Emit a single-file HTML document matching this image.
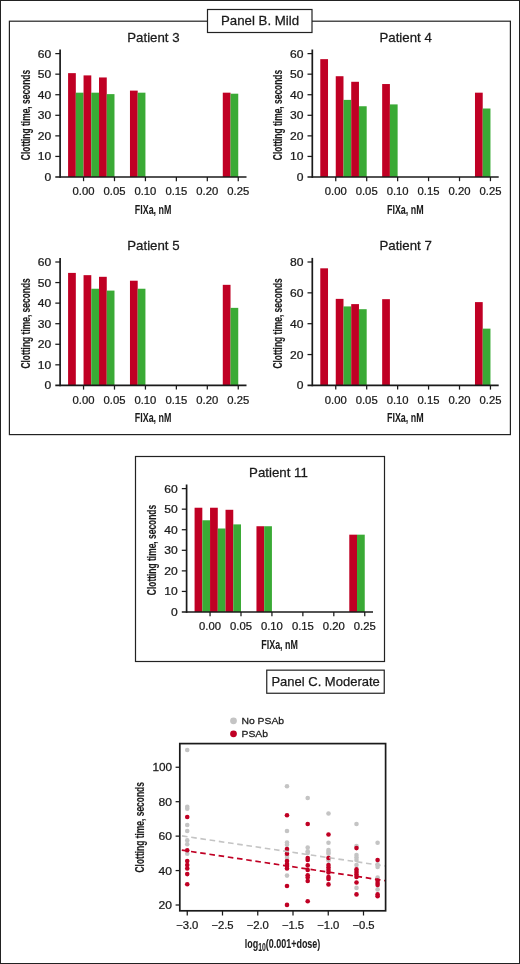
<!DOCTYPE html>
<html lang="en">
<head>
<meta charset="utf-8">
<title>Clotting time figure</title>
<style>
html,body{margin:0;padding:0;background:#fff;}
body{width:520px;height:964px;overflow:hidden;}
svg{display:block;font-family:"Liberation Sans", sans-serif;}
</style>
</head>
<body>
<svg width="520" height="964" viewBox="0 0 520 964">
<rect x="0.5" y="0.5" width="519" height="963" fill="#fff" stroke="#222" stroke-width="1"/>
<rect x="9.4" y="21.2" width="501" height="413.4" fill="none" stroke="#222" stroke-width="1.2"/>
<rect x="207.5" y="9.5" width="104.5" height="23" fill="#fff" stroke="#222" stroke-width="1.2"/>
<text transform="translate(260.00,25.00) scale(1.02,1)" font-size="13" text-anchor="middle" font-weight="normal" fill="#1a1a1a" stroke="#1a1a1a" stroke-width="0.25">Panel B. Mild</text>
<rect x="68.08" y="73.14" width="7.74" height="103.86" fill="#c00024"/>
<rect x="75.81" y="92.68" width="7.74" height="84.32" fill="#3aaa35"/>
<rect x="83.55" y="75.40" width="7.74" height="101.60" fill="#c00024"/>
<rect x="91.28" y="92.68" width="7.74" height="84.32" fill="#3aaa35"/>
<rect x="99.02" y="77.46" width="7.74" height="99.54" fill="#c00024"/>
<rect x="106.75" y="94.12" width="7.74" height="82.88" fill="#3aaa35"/>
<rect x="129.96" y="90.62" width="7.74" height="86.38" fill="#c00024"/>
<rect x="137.69" y="92.68" width="7.74" height="84.32" fill="#3aaa35"/>
<rect x="222.78" y="92.68" width="7.74" height="84.32" fill="#c00024"/>
<rect x="230.51" y="93.70" width="7.74" height="83.30" fill="#3aaa35"/>
<line x1="60.10" y1="49.50" x2="60.10" y2="177.85" stroke="#1a1a1a" stroke-width="1.7"/>
<line x1="55.30" y1="177.00" x2="246.50" y2="177.00" stroke="#1a1a1a" stroke-width="1.7"/>
<text transform="translate(51.30,180.95) scale(1.1,1)" font-size="11" text-anchor="end" font-weight="normal" fill="#1a1a1a" stroke="#1a1a1a" stroke-width="0.25">0</text>
<line x1="55.30" y1="156.43" x2="60.10" y2="156.43" stroke="#1a1a1a" stroke-width="1.25"/>
<text transform="translate(51.30,160.38) scale(1.1,1)" font-size="11" text-anchor="end" font-weight="normal" fill="#1a1a1a" stroke="#1a1a1a" stroke-width="0.25">10</text>
<line x1="55.30" y1="135.87" x2="60.10" y2="135.87" stroke="#1a1a1a" stroke-width="1.25"/>
<text transform="translate(51.30,139.82) scale(1.1,1)" font-size="11" text-anchor="end" font-weight="normal" fill="#1a1a1a" stroke="#1a1a1a" stroke-width="0.25">20</text>
<line x1="55.30" y1="115.30" x2="60.10" y2="115.30" stroke="#1a1a1a" stroke-width="1.25"/>
<text transform="translate(51.30,119.25) scale(1.1,1)" font-size="11" text-anchor="end" font-weight="normal" fill="#1a1a1a" stroke="#1a1a1a" stroke-width="0.25">30</text>
<line x1="55.30" y1="94.73" x2="60.10" y2="94.73" stroke="#1a1a1a" stroke-width="1.25"/>
<text transform="translate(51.30,98.68) scale(1.1,1)" font-size="11" text-anchor="end" font-weight="normal" fill="#1a1a1a" stroke="#1a1a1a" stroke-width="0.25">40</text>
<line x1="55.30" y1="74.17" x2="60.10" y2="74.17" stroke="#1a1a1a" stroke-width="1.25"/>
<text transform="translate(51.30,78.12) scale(1.1,1)" font-size="11" text-anchor="end" font-weight="normal" fill="#1a1a1a" stroke="#1a1a1a" stroke-width="0.25">50</text>
<line x1="55.30" y1="53.60" x2="60.10" y2="53.60" stroke="#1a1a1a" stroke-width="1.25"/>
<text transform="translate(51.30,57.55) scale(1.1,1)" font-size="11" text-anchor="end" font-weight="normal" fill="#1a1a1a" stroke="#1a1a1a" stroke-width="0.25">60</text>
<line x1="83.55" y1="177.00" x2="83.55" y2="181.20" stroke="#1a1a1a" stroke-width="1.25"/>
<text transform="translate(83.55,195.10) scale(1.025,1)" font-size="11" text-anchor="middle" font-weight="normal" fill="#1a1a1a" stroke="#1a1a1a" stroke-width="0.25">0.00</text>
<line x1="114.49" y1="177.00" x2="114.49" y2="181.20" stroke="#1a1a1a" stroke-width="1.25"/>
<text transform="translate(114.49,195.10) scale(1.025,1)" font-size="11" text-anchor="middle" font-weight="normal" fill="#1a1a1a" stroke="#1a1a1a" stroke-width="0.25">0.05</text>
<line x1="145.43" y1="177.00" x2="145.43" y2="181.20" stroke="#1a1a1a" stroke-width="1.25"/>
<text transform="translate(145.43,195.10) scale(1.025,1)" font-size="11" text-anchor="middle" font-weight="normal" fill="#1a1a1a" stroke="#1a1a1a" stroke-width="0.25">0.10</text>
<line x1="176.37" y1="177.00" x2="176.37" y2="181.20" stroke="#1a1a1a" stroke-width="1.25"/>
<text transform="translate(176.37,195.10) scale(1.025,1)" font-size="11" text-anchor="middle" font-weight="normal" fill="#1a1a1a" stroke="#1a1a1a" stroke-width="0.25">0.15</text>
<line x1="207.31" y1="177.00" x2="207.31" y2="181.20" stroke="#1a1a1a" stroke-width="1.25"/>
<text transform="translate(207.31,195.10) scale(1.025,1)" font-size="11" text-anchor="middle" font-weight="normal" fill="#1a1a1a" stroke="#1a1a1a" stroke-width="0.25">0.20</text>
<line x1="238.25" y1="177.00" x2="238.25" y2="181.20" stroke="#1a1a1a" stroke-width="1.25"/>
<text transform="translate(238.25,195.10) scale(1.025,1)" font-size="11" text-anchor="middle" font-weight="normal" fill="#1a1a1a" stroke="#1a1a1a" stroke-width="0.25">0.25</text>
<text transform="translate(153.40,41.75) scale(1.02,1)" font-size="13" text-anchor="middle" font-weight="normal" fill="#1a1a1a" stroke="#1a1a1a" stroke-width="0.25">Patient 3</text>
<text transform="translate(153.10,213.55) scale(0.66,1)" font-size="13.5" text-anchor="middle" font-weight="bold" fill="#1a1a1a" stroke="#1a1a1a" stroke-width="0.05">FIXa, nM</text>
<text transform="translate(29.80,115.00) rotate(-90) scale(0.625,1)" font-size="13.5" text-anchor="middle" font-weight="bold" fill="#1a1a1a" stroke="#1a1a1a" stroke-width="0.15">Clotting time, seconds</text>
<rect x="320.28" y="59.15" width="7.74" height="117.85" fill="#c00024"/>
<rect x="335.75" y="76.22" width="7.74" height="100.78" fill="#c00024"/>
<rect x="343.49" y="99.88" width="7.74" height="77.12" fill="#3aaa35"/>
<rect x="351.22" y="81.78" width="7.74" height="95.22" fill="#c00024"/>
<rect x="358.95" y="106.25" width="7.74" height="70.75" fill="#3aaa35"/>
<rect x="382.16" y="84.04" width="7.74" height="92.96" fill="#c00024"/>
<rect x="389.89" y="104.40" width="7.74" height="72.60" fill="#3aaa35"/>
<rect x="474.98" y="92.68" width="7.74" height="84.32" fill="#c00024"/>
<rect x="482.72" y="108.51" width="7.74" height="68.49" fill="#3aaa35"/>
<line x1="312.30" y1="49.50" x2="312.30" y2="177.85" stroke="#1a1a1a" stroke-width="1.7"/>
<line x1="307.50" y1="177.00" x2="498.70" y2="177.00" stroke="#1a1a1a" stroke-width="1.7"/>
<text transform="translate(303.50,180.95) scale(1.1,1)" font-size="11" text-anchor="end" font-weight="normal" fill="#1a1a1a" stroke="#1a1a1a" stroke-width="0.25">0</text>
<line x1="307.50" y1="156.43" x2="312.30" y2="156.43" stroke="#1a1a1a" stroke-width="1.25"/>
<text transform="translate(303.50,160.38) scale(1.1,1)" font-size="11" text-anchor="end" font-weight="normal" fill="#1a1a1a" stroke="#1a1a1a" stroke-width="0.25">10</text>
<line x1="307.50" y1="135.87" x2="312.30" y2="135.87" stroke="#1a1a1a" stroke-width="1.25"/>
<text transform="translate(303.50,139.82) scale(1.1,1)" font-size="11" text-anchor="end" font-weight="normal" fill="#1a1a1a" stroke="#1a1a1a" stroke-width="0.25">20</text>
<line x1="307.50" y1="115.30" x2="312.30" y2="115.30" stroke="#1a1a1a" stroke-width="1.25"/>
<text transform="translate(303.50,119.25) scale(1.1,1)" font-size="11" text-anchor="end" font-weight="normal" fill="#1a1a1a" stroke="#1a1a1a" stroke-width="0.25">30</text>
<line x1="307.50" y1="94.73" x2="312.30" y2="94.73" stroke="#1a1a1a" stroke-width="1.25"/>
<text transform="translate(303.50,98.68) scale(1.1,1)" font-size="11" text-anchor="end" font-weight="normal" fill="#1a1a1a" stroke="#1a1a1a" stroke-width="0.25">40</text>
<line x1="307.50" y1="74.17" x2="312.30" y2="74.17" stroke="#1a1a1a" stroke-width="1.25"/>
<text transform="translate(303.50,78.12) scale(1.1,1)" font-size="11" text-anchor="end" font-weight="normal" fill="#1a1a1a" stroke="#1a1a1a" stroke-width="0.25">50</text>
<line x1="307.50" y1="53.60" x2="312.30" y2="53.60" stroke="#1a1a1a" stroke-width="1.25"/>
<text transform="translate(303.50,57.55) scale(1.1,1)" font-size="11" text-anchor="end" font-weight="normal" fill="#1a1a1a" stroke="#1a1a1a" stroke-width="0.25">60</text>
<line x1="335.75" y1="177.00" x2="335.75" y2="181.20" stroke="#1a1a1a" stroke-width="1.25"/>
<text transform="translate(335.75,195.10) scale(1.025,1)" font-size="11" text-anchor="middle" font-weight="normal" fill="#1a1a1a" stroke="#1a1a1a" stroke-width="0.25">0.00</text>
<line x1="366.69" y1="177.00" x2="366.69" y2="181.20" stroke="#1a1a1a" stroke-width="1.25"/>
<text transform="translate(366.69,195.10) scale(1.025,1)" font-size="11" text-anchor="middle" font-weight="normal" fill="#1a1a1a" stroke="#1a1a1a" stroke-width="0.25">0.05</text>
<line x1="397.63" y1="177.00" x2="397.63" y2="181.20" stroke="#1a1a1a" stroke-width="1.25"/>
<text transform="translate(397.63,195.10) scale(1.025,1)" font-size="11" text-anchor="middle" font-weight="normal" fill="#1a1a1a" stroke="#1a1a1a" stroke-width="0.25">0.10</text>
<line x1="428.57" y1="177.00" x2="428.57" y2="181.20" stroke="#1a1a1a" stroke-width="1.25"/>
<text transform="translate(428.57,195.10) scale(1.025,1)" font-size="11" text-anchor="middle" font-weight="normal" fill="#1a1a1a" stroke="#1a1a1a" stroke-width="0.25">0.15</text>
<line x1="459.51" y1="177.00" x2="459.51" y2="181.20" stroke="#1a1a1a" stroke-width="1.25"/>
<text transform="translate(459.51,195.10) scale(1.025,1)" font-size="11" text-anchor="middle" font-weight="normal" fill="#1a1a1a" stroke="#1a1a1a" stroke-width="0.25">0.20</text>
<line x1="490.45" y1="177.00" x2="490.45" y2="181.20" stroke="#1a1a1a" stroke-width="1.25"/>
<text transform="translate(490.45,195.10) scale(1.025,1)" font-size="11" text-anchor="middle" font-weight="normal" fill="#1a1a1a" stroke="#1a1a1a" stroke-width="0.25">0.25</text>
<text transform="translate(405.60,41.75) scale(1.02,1)" font-size="13" text-anchor="middle" font-weight="normal" fill="#1a1a1a" stroke="#1a1a1a" stroke-width="0.25">Patient 4</text>
<text transform="translate(405.30,213.55) scale(0.66,1)" font-size="13.5" text-anchor="middle" font-weight="bold" fill="#1a1a1a" stroke="#1a1a1a" stroke-width="0.05">FIXa, nM</text>
<text transform="translate(282.00,115.00) rotate(-90) scale(0.625,1)" font-size="13.5" text-anchor="middle" font-weight="bold" fill="#1a1a1a" stroke="#1a1a1a" stroke-width="0.15">Clotting time, seconds</text>
<rect x="68.08" y="272.90" width="7.74" height="112.50" fill="#c00024"/>
<rect x="83.55" y="275.16" width="7.74" height="110.24" fill="#c00024"/>
<rect x="91.28" y="288.74" width="7.74" height="96.66" fill="#3aaa35"/>
<rect x="99.02" y="276.81" width="7.74" height="108.59" fill="#c00024"/>
<rect x="106.75" y="290.59" width="7.74" height="94.81" fill="#3aaa35"/>
<rect x="129.96" y="280.72" width="7.74" height="104.68" fill="#c00024"/>
<rect x="137.69" y="288.74" width="7.74" height="96.66" fill="#3aaa35"/>
<rect x="222.78" y="284.83" width="7.74" height="100.57" fill="#c00024"/>
<rect x="230.51" y="307.86" width="7.74" height="77.54" fill="#3aaa35"/>
<line x1="60.10" y1="257.90" x2="60.10" y2="386.25" stroke="#1a1a1a" stroke-width="1.7"/>
<line x1="55.30" y1="385.40" x2="246.50" y2="385.40" stroke="#1a1a1a" stroke-width="1.7"/>
<text transform="translate(51.30,389.35) scale(1.1,1)" font-size="11" text-anchor="end" font-weight="normal" fill="#1a1a1a" stroke="#1a1a1a" stroke-width="0.25">0</text>
<line x1="55.30" y1="364.83" x2="60.10" y2="364.83" stroke="#1a1a1a" stroke-width="1.25"/>
<text transform="translate(51.30,368.78) scale(1.1,1)" font-size="11" text-anchor="end" font-weight="normal" fill="#1a1a1a" stroke="#1a1a1a" stroke-width="0.25">10</text>
<line x1="55.30" y1="344.27" x2="60.10" y2="344.27" stroke="#1a1a1a" stroke-width="1.25"/>
<text transform="translate(51.30,348.22) scale(1.1,1)" font-size="11" text-anchor="end" font-weight="normal" fill="#1a1a1a" stroke="#1a1a1a" stroke-width="0.25">20</text>
<line x1="55.30" y1="323.70" x2="60.10" y2="323.70" stroke="#1a1a1a" stroke-width="1.25"/>
<text transform="translate(51.30,327.65) scale(1.1,1)" font-size="11" text-anchor="end" font-weight="normal" fill="#1a1a1a" stroke="#1a1a1a" stroke-width="0.25">30</text>
<line x1="55.30" y1="303.13" x2="60.10" y2="303.13" stroke="#1a1a1a" stroke-width="1.25"/>
<text transform="translate(51.30,307.08) scale(1.1,1)" font-size="11" text-anchor="end" font-weight="normal" fill="#1a1a1a" stroke="#1a1a1a" stroke-width="0.25">40</text>
<line x1="55.30" y1="282.57" x2="60.10" y2="282.57" stroke="#1a1a1a" stroke-width="1.25"/>
<text transform="translate(51.30,286.52) scale(1.1,1)" font-size="11" text-anchor="end" font-weight="normal" fill="#1a1a1a" stroke="#1a1a1a" stroke-width="0.25">50</text>
<line x1="55.30" y1="262.00" x2="60.10" y2="262.00" stroke="#1a1a1a" stroke-width="1.25"/>
<text transform="translate(51.30,265.95) scale(1.1,1)" font-size="11" text-anchor="end" font-weight="normal" fill="#1a1a1a" stroke="#1a1a1a" stroke-width="0.25">60</text>
<line x1="83.55" y1="385.40" x2="83.55" y2="389.60" stroke="#1a1a1a" stroke-width="1.25"/>
<text transform="translate(83.55,403.50) scale(1.025,1)" font-size="11" text-anchor="middle" font-weight="normal" fill="#1a1a1a" stroke="#1a1a1a" stroke-width="0.25">0.00</text>
<line x1="114.49" y1="385.40" x2="114.49" y2="389.60" stroke="#1a1a1a" stroke-width="1.25"/>
<text transform="translate(114.49,403.50) scale(1.025,1)" font-size="11" text-anchor="middle" font-weight="normal" fill="#1a1a1a" stroke="#1a1a1a" stroke-width="0.25">0.05</text>
<line x1="145.43" y1="385.40" x2="145.43" y2="389.60" stroke="#1a1a1a" stroke-width="1.25"/>
<text transform="translate(145.43,403.50) scale(1.025,1)" font-size="11" text-anchor="middle" font-weight="normal" fill="#1a1a1a" stroke="#1a1a1a" stroke-width="0.25">0.10</text>
<line x1="176.37" y1="385.40" x2="176.37" y2="389.60" stroke="#1a1a1a" stroke-width="1.25"/>
<text transform="translate(176.37,403.50) scale(1.025,1)" font-size="11" text-anchor="middle" font-weight="normal" fill="#1a1a1a" stroke="#1a1a1a" stroke-width="0.25">0.15</text>
<line x1="207.31" y1="385.40" x2="207.31" y2="389.60" stroke="#1a1a1a" stroke-width="1.25"/>
<text transform="translate(207.31,403.50) scale(1.025,1)" font-size="11" text-anchor="middle" font-weight="normal" fill="#1a1a1a" stroke="#1a1a1a" stroke-width="0.25">0.20</text>
<line x1="238.25" y1="385.40" x2="238.25" y2="389.60" stroke="#1a1a1a" stroke-width="1.25"/>
<text transform="translate(238.25,403.50) scale(1.025,1)" font-size="11" text-anchor="middle" font-weight="normal" fill="#1a1a1a" stroke="#1a1a1a" stroke-width="0.25">0.25</text>
<text transform="translate(153.40,250.15) scale(1.02,1)" font-size="13" text-anchor="middle" font-weight="normal" fill="#1a1a1a" stroke="#1a1a1a" stroke-width="0.25">Patient 5</text>
<text transform="translate(153.10,421.95) scale(0.66,1)" font-size="13.5" text-anchor="middle" font-weight="bold" fill="#1a1a1a" stroke="#1a1a1a" stroke-width="0.05">FIXa, nM</text>
<text transform="translate(29.80,323.40) rotate(-90) scale(0.625,1)" font-size="13.5" text-anchor="middle" font-weight="bold" fill="#1a1a1a" stroke="#1a1a1a" stroke-width="0.15">Clotting time, seconds</text>
<rect x="320.28" y="268.32" width="7.74" height="117.08" fill="#c00024"/>
<rect x="335.75" y="298.87" width="7.74" height="86.53" fill="#c00024"/>
<rect x="343.49" y="306.42" width="7.74" height="78.98" fill="#3aaa35"/>
<rect x="351.22" y="304.11" width="7.74" height="81.29" fill="#c00024"/>
<rect x="358.95" y="309.20" width="7.74" height="76.20" fill="#3aaa35"/>
<rect x="382.16" y="299.17" width="7.74" height="86.23" fill="#c00024"/>
<rect x="474.98" y="302.11" width="7.74" height="83.29" fill="#c00024"/>
<rect x="482.72" y="328.64" width="7.74" height="56.76" fill="#3aaa35"/>
<line x1="312.30" y1="257.90" x2="312.30" y2="386.25" stroke="#1a1a1a" stroke-width="1.7"/>
<line x1="307.50" y1="385.40" x2="498.70" y2="385.40" stroke="#1a1a1a" stroke-width="1.7"/>
<text transform="translate(303.50,389.35) scale(1.1,1)" font-size="11" text-anchor="end" font-weight="normal" fill="#1a1a1a" stroke="#1a1a1a" stroke-width="0.25">0</text>
<line x1="307.50" y1="354.55" x2="312.30" y2="354.55" stroke="#1a1a1a" stroke-width="1.25"/>
<text transform="translate(303.50,358.50) scale(1.1,1)" font-size="11" text-anchor="end" font-weight="normal" fill="#1a1a1a" stroke="#1a1a1a" stroke-width="0.25">20</text>
<line x1="307.50" y1="323.70" x2="312.30" y2="323.70" stroke="#1a1a1a" stroke-width="1.25"/>
<text transform="translate(303.50,327.65) scale(1.1,1)" font-size="11" text-anchor="end" font-weight="normal" fill="#1a1a1a" stroke="#1a1a1a" stroke-width="0.25">40</text>
<line x1="307.50" y1="292.85" x2="312.30" y2="292.85" stroke="#1a1a1a" stroke-width="1.25"/>
<text transform="translate(303.50,296.80) scale(1.1,1)" font-size="11" text-anchor="end" font-weight="normal" fill="#1a1a1a" stroke="#1a1a1a" stroke-width="0.25">60</text>
<line x1="307.50" y1="262.00" x2="312.30" y2="262.00" stroke="#1a1a1a" stroke-width="1.25"/>
<text transform="translate(303.50,265.95) scale(1.1,1)" font-size="11" text-anchor="end" font-weight="normal" fill="#1a1a1a" stroke="#1a1a1a" stroke-width="0.25">80</text>
<line x1="335.75" y1="385.40" x2="335.75" y2="389.60" stroke="#1a1a1a" stroke-width="1.25"/>
<text transform="translate(335.75,403.50) scale(1.025,1)" font-size="11" text-anchor="middle" font-weight="normal" fill="#1a1a1a" stroke="#1a1a1a" stroke-width="0.25">0.00</text>
<line x1="366.69" y1="385.40" x2="366.69" y2="389.60" stroke="#1a1a1a" stroke-width="1.25"/>
<text transform="translate(366.69,403.50) scale(1.025,1)" font-size="11" text-anchor="middle" font-weight="normal" fill="#1a1a1a" stroke="#1a1a1a" stroke-width="0.25">0.05</text>
<line x1="397.63" y1="385.40" x2="397.63" y2="389.60" stroke="#1a1a1a" stroke-width="1.25"/>
<text transform="translate(397.63,403.50) scale(1.025,1)" font-size="11" text-anchor="middle" font-weight="normal" fill="#1a1a1a" stroke="#1a1a1a" stroke-width="0.25">0.10</text>
<line x1="428.57" y1="385.40" x2="428.57" y2="389.60" stroke="#1a1a1a" stroke-width="1.25"/>
<text transform="translate(428.57,403.50) scale(1.025,1)" font-size="11" text-anchor="middle" font-weight="normal" fill="#1a1a1a" stroke="#1a1a1a" stroke-width="0.25">0.15</text>
<line x1="459.51" y1="385.40" x2="459.51" y2="389.60" stroke="#1a1a1a" stroke-width="1.25"/>
<text transform="translate(459.51,403.50) scale(1.025,1)" font-size="11" text-anchor="middle" font-weight="normal" fill="#1a1a1a" stroke="#1a1a1a" stroke-width="0.25">0.20</text>
<line x1="490.45" y1="385.40" x2="490.45" y2="389.60" stroke="#1a1a1a" stroke-width="1.25"/>
<text transform="translate(490.45,403.50) scale(1.025,1)" font-size="11" text-anchor="middle" font-weight="normal" fill="#1a1a1a" stroke="#1a1a1a" stroke-width="0.25">0.25</text>
<text transform="translate(405.60,250.15) scale(1.02,1)" font-size="13" text-anchor="middle" font-weight="normal" fill="#1a1a1a" stroke="#1a1a1a" stroke-width="0.25">Patient 7</text>
<text transform="translate(405.30,421.95) scale(0.66,1)" font-size="13.5" text-anchor="middle" font-weight="bold" fill="#1a1a1a" stroke="#1a1a1a" stroke-width="0.05">FIXa, nM</text>
<text transform="translate(282.00,323.40) rotate(-90) scale(0.625,1)" font-size="13.5" text-anchor="middle" font-weight="bold" fill="#1a1a1a" stroke="#1a1a1a" stroke-width="0.15">Clotting time, seconds</text>
<rect x="135.5" y="456.5" width="249" height="205" fill="none" stroke="#222" stroke-width="1.2"/>
<rect x="194.58" y="507.73" width="7.74" height="104.27" fill="#c00024"/>
<rect x="202.31" y="520.27" width="7.74" height="91.73" fill="#3aaa35"/>
<rect x="210.05" y="507.73" width="7.74" height="104.27" fill="#c00024"/>
<rect x="217.78" y="528.50" width="7.74" height="83.50" fill="#3aaa35"/>
<rect x="225.52" y="509.78" width="7.74" height="102.22" fill="#c00024"/>
<rect x="233.25" y="524.39" width="7.74" height="87.61" fill="#3aaa35"/>
<rect x="256.46" y="526.24" width="7.74" height="85.76" fill="#c00024"/>
<rect x="264.19" y="526.24" width="7.74" height="85.76" fill="#3aaa35"/>
<rect x="349.28" y="534.67" width="7.74" height="77.33" fill="#c00024"/>
<rect x="357.01" y="534.67" width="7.74" height="77.33" fill="#3aaa35"/>
<line x1="186.60" y1="484.50" x2="186.60" y2="612.85" stroke="#1a1a1a" stroke-width="1.7"/>
<line x1="181.80" y1="612.00" x2="373.00" y2="612.00" stroke="#1a1a1a" stroke-width="1.7"/>
<text transform="translate(177.80,615.95) scale(1.1,1)" font-size="11" text-anchor="end" font-weight="normal" fill="#1a1a1a" stroke="#1a1a1a" stroke-width="0.25">0</text>
<line x1="181.80" y1="591.43" x2="186.60" y2="591.43" stroke="#1a1a1a" stroke-width="1.25"/>
<text transform="translate(177.80,595.38) scale(1.1,1)" font-size="11" text-anchor="end" font-weight="normal" fill="#1a1a1a" stroke="#1a1a1a" stroke-width="0.25">10</text>
<line x1="181.80" y1="570.87" x2="186.60" y2="570.87" stroke="#1a1a1a" stroke-width="1.25"/>
<text transform="translate(177.80,574.82) scale(1.1,1)" font-size="11" text-anchor="end" font-weight="normal" fill="#1a1a1a" stroke="#1a1a1a" stroke-width="0.25">20</text>
<line x1="181.80" y1="550.30" x2="186.60" y2="550.30" stroke="#1a1a1a" stroke-width="1.25"/>
<text transform="translate(177.80,554.25) scale(1.1,1)" font-size="11" text-anchor="end" font-weight="normal" fill="#1a1a1a" stroke="#1a1a1a" stroke-width="0.25">30</text>
<line x1="181.80" y1="529.73" x2="186.60" y2="529.73" stroke="#1a1a1a" stroke-width="1.25"/>
<text transform="translate(177.80,533.68) scale(1.1,1)" font-size="11" text-anchor="end" font-weight="normal" fill="#1a1a1a" stroke="#1a1a1a" stroke-width="0.25">40</text>
<line x1="181.80" y1="509.17" x2="186.60" y2="509.17" stroke="#1a1a1a" stroke-width="1.25"/>
<text transform="translate(177.80,513.12) scale(1.1,1)" font-size="11" text-anchor="end" font-weight="normal" fill="#1a1a1a" stroke="#1a1a1a" stroke-width="0.25">50</text>
<line x1="181.80" y1="488.60" x2="186.60" y2="488.60" stroke="#1a1a1a" stroke-width="1.25"/>
<text transform="translate(177.80,492.55) scale(1.1,1)" font-size="11" text-anchor="end" font-weight="normal" fill="#1a1a1a" stroke="#1a1a1a" stroke-width="0.25">60</text>
<line x1="210.05" y1="612.00" x2="210.05" y2="616.20" stroke="#1a1a1a" stroke-width="1.25"/>
<text transform="translate(210.05,630.10) scale(1.025,1)" font-size="11" text-anchor="middle" font-weight="normal" fill="#1a1a1a" stroke="#1a1a1a" stroke-width="0.25">0.00</text>
<line x1="240.99" y1="612.00" x2="240.99" y2="616.20" stroke="#1a1a1a" stroke-width="1.25"/>
<text transform="translate(240.99,630.10) scale(1.025,1)" font-size="11" text-anchor="middle" font-weight="normal" fill="#1a1a1a" stroke="#1a1a1a" stroke-width="0.25">0.05</text>
<line x1="271.93" y1="612.00" x2="271.93" y2="616.20" stroke="#1a1a1a" stroke-width="1.25"/>
<text transform="translate(271.93,630.10) scale(1.025,1)" font-size="11" text-anchor="middle" font-weight="normal" fill="#1a1a1a" stroke="#1a1a1a" stroke-width="0.25">0.10</text>
<line x1="302.87" y1="612.00" x2="302.87" y2="616.20" stroke="#1a1a1a" stroke-width="1.25"/>
<text transform="translate(302.87,630.10) scale(1.025,1)" font-size="11" text-anchor="middle" font-weight="normal" fill="#1a1a1a" stroke="#1a1a1a" stroke-width="0.25">0.15</text>
<line x1="333.81" y1="612.00" x2="333.81" y2="616.20" stroke="#1a1a1a" stroke-width="1.25"/>
<text transform="translate(333.81,630.10) scale(1.025,1)" font-size="11" text-anchor="middle" font-weight="normal" fill="#1a1a1a" stroke="#1a1a1a" stroke-width="0.25">0.20</text>
<line x1="364.75" y1="612.00" x2="364.75" y2="616.20" stroke="#1a1a1a" stroke-width="1.25"/>
<text transform="translate(364.75,630.10) scale(1.025,1)" font-size="11" text-anchor="middle" font-weight="normal" fill="#1a1a1a" stroke="#1a1a1a" stroke-width="0.25">0.25</text>
<text transform="translate(278.40,476.75) scale(1.02,1)" font-size="13" text-anchor="middle" font-weight="normal" fill="#1a1a1a" stroke="#1a1a1a" stroke-width="0.25">Patient 11</text>
<text transform="translate(279.60,648.55) scale(0.66,1)" font-size="13.5" text-anchor="middle" font-weight="bold" fill="#1a1a1a" stroke="#1a1a1a" stroke-width="0.05">FIXa, nM</text>
<text transform="translate(156.30,550.00) rotate(-90) scale(0.625,1)" font-size="13.5" text-anchor="middle" font-weight="bold" fill="#1a1a1a" stroke="#1a1a1a" stroke-width="0.15">Clotting time, seconds</text>
<rect x="266.75" y="670.15" width="117.5" height="23.1" fill="#fff" stroke="#222" stroke-width="1.2"/>
<text transform="translate(325.60,685.50)" font-size="13" text-anchor="middle" font-weight="normal" fill="#1a1a1a" stroke="#1a1a1a" stroke-width="0.25">Panel C. Moderate</text>
<circle cx="233.5" cy="720.8" r="3.4" fill="#c4c4c4"/>
<circle cx="233.5" cy="733.8" r="3.4" fill="#c00024"/>
<text transform="translate(241.50,724.00) scale(1.08,1)" font-size="9.6" text-anchor="start" font-weight="normal" fill="#1a1a1a" stroke="#1a1a1a" stroke-width="0.25">No PSAb</text>
<text transform="translate(241.50,736.80) scale(1.08,1)" font-size="9.6" text-anchor="start" font-weight="normal" fill="#1a1a1a" stroke="#1a1a1a" stroke-width="0.25">PSAb</text>
<circle cx="187.25" cy="750.00" r="2.3" fill="#c4c4c4"/>
<circle cx="187.25" cy="806.75" r="2.3" fill="#c4c4c4"/>
<circle cx="187.25" cy="808.75" r="2.3" fill="#c4c4c4"/>
<circle cx="187.25" cy="825.00" r="2.3" fill="#c4c4c4"/>
<circle cx="187.25" cy="831.00" r="2.3" fill="#c4c4c4"/>
<circle cx="187.25" cy="840.40" r="2.3" fill="#c4c4c4"/>
<circle cx="187.25" cy="844.30" r="2.3" fill="#c4c4c4"/>
<circle cx="187.25" cy="853.70" r="2.3" fill="#c4c4c4"/>
<circle cx="287.00" cy="786.25" r="2.3" fill="#c4c4c4"/>
<circle cx="287.00" cy="831.00" r="2.3" fill="#c4c4c4"/>
<circle cx="287.00" cy="842.50" r="2.3" fill="#c4c4c4"/>
<circle cx="287.00" cy="844.75" r="2.3" fill="#c4c4c4"/>
<circle cx="287.00" cy="850.60" r="2.3" fill="#c4c4c4"/>
<circle cx="287.00" cy="855.60" r="2.3" fill="#c4c4c4"/>
<circle cx="287.00" cy="858.00" r="2.3" fill="#c4c4c4"/>
<circle cx="287.00" cy="875.60" r="2.3" fill="#c4c4c4"/>
<circle cx="307.70" cy="798.00" r="2.3" fill="#c4c4c4"/>
<circle cx="307.70" cy="847.50" r="2.3" fill="#c4c4c4"/>
<circle cx="307.70" cy="851.25" r="2.3" fill="#c4c4c4"/>
<circle cx="307.70" cy="853.00" r="2.3" fill="#c4c4c4"/>
<circle cx="328.50" cy="813.50" r="2.3" fill="#c4c4c4"/>
<circle cx="328.50" cy="842.75" r="2.3" fill="#c4c4c4"/>
<circle cx="328.50" cy="850.00" r="2.3" fill="#c4c4c4"/>
<circle cx="328.50" cy="852.00" r="2.3" fill="#c4c4c4"/>
<circle cx="328.50" cy="853.75" r="2.3" fill="#c4c4c4"/>
<circle cx="328.50" cy="860.60" r="2.3" fill="#c4c4c4"/>
<circle cx="356.50" cy="824.00" r="2.3" fill="#c4c4c4"/>
<circle cx="356.50" cy="846.00" r="2.3" fill="#c4c4c4"/>
<circle cx="356.50" cy="855.00" r="2.3" fill="#c4c4c4"/>
<circle cx="356.50" cy="857.50" r="2.3" fill="#c4c4c4"/>
<circle cx="356.50" cy="860.00" r="2.3" fill="#c4c4c4"/>
<circle cx="356.50" cy="865.00" r="2.3" fill="#c4c4c4"/>
<circle cx="356.50" cy="887.90" r="2.3" fill="#c4c4c4"/>
<circle cx="377.60" cy="842.75" r="2.3" fill="#c4c4c4"/>
<circle cx="377.60" cy="864.40" r="2.3" fill="#c4c4c4"/>
<circle cx="377.60" cy="866.90" r="2.3" fill="#c4c4c4"/>
<circle cx="377.60" cy="877.50" r="2.3" fill="#c4c4c4"/>
<circle cx="377.60" cy="889.40" r="2.3" fill="#c4c4c4"/>
<circle cx="187.25" cy="817.00" r="2.3" fill="#c00024"/>
<circle cx="187.25" cy="850.20" r="2.3" fill="#c00024"/>
<circle cx="187.25" cy="861.10" r="2.3" fill="#c00024"/>
<circle cx="187.25" cy="865.00" r="2.3" fill="#c00024"/>
<circle cx="187.25" cy="868.50" r="2.3" fill="#c00024"/>
<circle cx="187.25" cy="874.10" r="2.3" fill="#c00024"/>
<circle cx="187.25" cy="884.20" r="2.3" fill="#c00024"/>
<circle cx="287.00" cy="815.25" r="2.3" fill="#c00024"/>
<circle cx="287.00" cy="849.00" r="2.3" fill="#c00024"/>
<circle cx="287.00" cy="853.75" r="2.3" fill="#c00024"/>
<circle cx="287.00" cy="861.00" r="2.3" fill="#c00024"/>
<circle cx="287.00" cy="864.00" r="2.3" fill="#c00024"/>
<circle cx="287.00" cy="866.00" r="2.3" fill="#c00024"/>
<circle cx="287.00" cy="868.50" r="2.3" fill="#c00024"/>
<circle cx="287.00" cy="886.00" r="2.3" fill="#c00024"/>
<circle cx="287.00" cy="904.90" r="2.3" fill="#c00024"/>
<circle cx="307.70" cy="824.00" r="2.3" fill="#c00024"/>
<circle cx="307.70" cy="858.00" r="2.3" fill="#c00024"/>
<circle cx="307.70" cy="860.00" r="2.3" fill="#c00024"/>
<circle cx="307.70" cy="865.40" r="2.3" fill="#c00024"/>
<circle cx="307.70" cy="870.00" r="2.3" fill="#c00024"/>
<circle cx="307.70" cy="875.25" r="2.3" fill="#c00024"/>
<circle cx="307.70" cy="877.50" r="2.3" fill="#c00024"/>
<circle cx="307.70" cy="881.00" r="2.3" fill="#c00024"/>
<circle cx="307.70" cy="901.25" r="2.3" fill="#c00024"/>
<circle cx="328.50" cy="834.50" r="2.3" fill="#c00024"/>
<circle cx="328.50" cy="858.00" r="2.3" fill="#c00024"/>
<circle cx="328.50" cy="865.00" r="2.3" fill="#c00024"/>
<circle cx="328.50" cy="867.50" r="2.3" fill="#c00024"/>
<circle cx="328.50" cy="870.00" r="2.3" fill="#c00024"/>
<circle cx="328.50" cy="872.50" r="2.3" fill="#c00024"/>
<circle cx="328.50" cy="877.00" r="2.3" fill="#c00024"/>
<circle cx="328.50" cy="879.00" r="2.3" fill="#c00024"/>
<circle cx="328.50" cy="884.40" r="2.3" fill="#c00024"/>
<circle cx="356.50" cy="848.10" r="2.3" fill="#c00024"/>
<circle cx="356.50" cy="869.40" r="2.3" fill="#c00024"/>
<circle cx="356.50" cy="871.90" r="2.3" fill="#c00024"/>
<circle cx="356.50" cy="874.40" r="2.3" fill="#c00024"/>
<circle cx="356.50" cy="876.90" r="2.3" fill="#c00024"/>
<circle cx="356.50" cy="882.50" r="2.3" fill="#c00024"/>
<circle cx="356.50" cy="894.40" r="2.3" fill="#c00024"/>
<circle cx="377.60" cy="860.00" r="2.3" fill="#c00024"/>
<circle cx="377.60" cy="880.60" r="2.3" fill="#c00024"/>
<circle cx="377.60" cy="883.10" r="2.3" fill="#c00024"/>
<circle cx="377.60" cy="885.00" r="2.3" fill="#c00024"/>
<circle cx="377.60" cy="894.40" r="2.3" fill="#c00024"/>
<circle cx="377.60" cy="896.25" r="2.3" fill="#c00024"/>
<line x1="182.00" y1="835.90" x2="385.00" y2="866.00" stroke="#c4c4c4" stroke-width="1.6" stroke-dasharray="5.6 3.7"/>
<line x1="181.80" y1="850.10" x2="385.00" y2="880.60" stroke="#c00024" stroke-width="1.7" stroke-dasharray="5.6 3.7"/>
<rect x="179.8" y="743.6" width="205.8" height="167.2" fill="none" stroke="#1a1a1a" stroke-width="1.7"/>
<line x1="175.60" y1="905.01" x2="180.00" y2="905.01" stroke="#1a1a1a" stroke-width="1.25"/>
<text transform="translate(172.00,908.96) scale(1.1,1)" font-size="11" text-anchor="end" font-weight="normal" fill="#1a1a1a" stroke="#1a1a1a" stroke-width="0.25">20</text>
<line x1="175.60" y1="870.57" x2="180.00" y2="870.57" stroke="#1a1a1a" stroke-width="1.25"/>
<text transform="translate(172.00,874.52) scale(1.1,1)" font-size="11" text-anchor="end" font-weight="normal" fill="#1a1a1a" stroke="#1a1a1a" stroke-width="0.25">40</text>
<line x1="175.60" y1="836.13" x2="180.00" y2="836.13" stroke="#1a1a1a" stroke-width="1.25"/>
<text transform="translate(172.00,840.08) scale(1.1,1)" font-size="11" text-anchor="end" font-weight="normal" fill="#1a1a1a" stroke="#1a1a1a" stroke-width="0.25">60</text>
<line x1="175.60" y1="801.69" x2="180.00" y2="801.69" stroke="#1a1a1a" stroke-width="1.25"/>
<text transform="translate(172.00,805.64) scale(1.1,1)" font-size="11" text-anchor="end" font-weight="normal" fill="#1a1a1a" stroke="#1a1a1a" stroke-width="0.25">80</text>
<line x1="175.60" y1="767.25" x2="180.00" y2="767.25" stroke="#1a1a1a" stroke-width="1.25"/>
<text transform="translate(172.00,771.20) scale(1.07,1)" font-size="11" text-anchor="end" font-weight="normal" fill="#1a1a1a" stroke="#1a1a1a" stroke-width="0.25">100</text>
<line x1="187.25" y1="911.00" x2="187.25" y2="915.50" stroke="#1a1a1a" stroke-width="1.25"/>
<text transform="translate(187.25,929.00) scale(1.025,1)" font-size="11" text-anchor="middle" font-weight="normal" fill="#1a1a1a" stroke="#1a1a1a" stroke-width="0.25">−3.0</text>
<line x1="222.50" y1="911.00" x2="222.50" y2="915.50" stroke="#1a1a1a" stroke-width="1.25"/>
<text transform="translate(222.50,929.00) scale(1.025,1)" font-size="11" text-anchor="middle" font-weight="normal" fill="#1a1a1a" stroke="#1a1a1a" stroke-width="0.25">−2.5</text>
<line x1="257.75" y1="911.00" x2="257.75" y2="915.50" stroke="#1a1a1a" stroke-width="1.25"/>
<text transform="translate(257.75,929.00) scale(1.025,1)" font-size="11" text-anchor="middle" font-weight="normal" fill="#1a1a1a" stroke="#1a1a1a" stroke-width="0.25">−2.0</text>
<line x1="293.00" y1="911.00" x2="293.00" y2="915.50" stroke="#1a1a1a" stroke-width="1.25"/>
<text transform="translate(293.00,929.00) scale(1.025,1)" font-size="11" text-anchor="middle" font-weight="normal" fill="#1a1a1a" stroke="#1a1a1a" stroke-width="0.25">−1.5</text>
<line x1="328.25" y1="911.00" x2="328.25" y2="915.50" stroke="#1a1a1a" stroke-width="1.25"/>
<text transform="translate(328.25,929.00) scale(1.025,1)" font-size="11" text-anchor="middle" font-weight="normal" fill="#1a1a1a" stroke="#1a1a1a" stroke-width="0.25">−1.0</text>
<line x1="363.50" y1="911.00" x2="363.50" y2="915.50" stroke="#1a1a1a" stroke-width="1.25"/>
<text transform="translate(363.50,929.00) scale(1.025,1)" font-size="11" text-anchor="middle" font-weight="normal" fill="#1a1a1a" stroke="#1a1a1a" stroke-width="0.25">−0.5</text>
<text transform="translate(143.80,827.30) rotate(-90) scale(0.625,1)" font-size="13.5" text-anchor="middle" font-weight="bold" fill="#1a1a1a" stroke="#1a1a1a" stroke-width="0.15">Clotting time, seconds</text>
<text transform="translate(282.5,947.7) scale(0.665,1)" font-size="13.5" text-anchor="middle" font-weight="bold" fill="#1a1a1a" stroke="#1a1a1a" stroke-width="0.05">log<tspan font-size="10.3" dy="3.4">10</tspan><tspan dy="-3.4">(0.001+dose)</tspan></text>
</svg>
</body>
</html>
